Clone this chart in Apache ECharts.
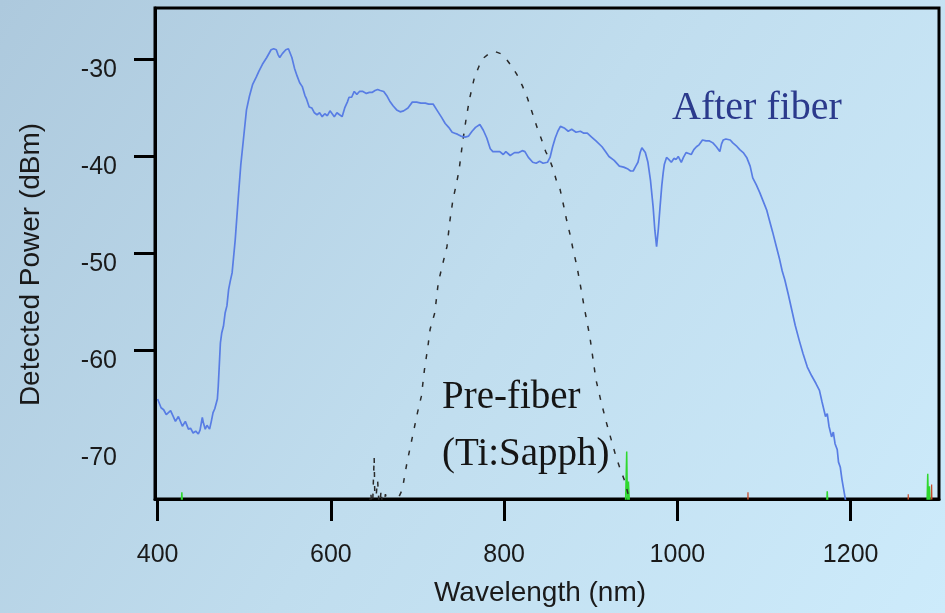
<!DOCTYPE html>
<html>
<head>
<meta charset="utf-8">
<script src="https://cdn.jsdelivr.net/npm/echarts@6/dist/echarts.min.js"></script>
<style>
  html, body { margin: 0; padding: 0; }
  #chart { width: 945px; height: 613px; }
</style>
</head>
<body>
<div id="chart"></div>
<script>
// Tick labels
const xTicks = [400, 600, 800, 1000, 1200];
const yTickMarks = [-60, -50, -40, -30];
const yTickLabels = [-70, -60, -50, -40, -30];

// After fiber spectrum: [wavelength nm, power dBm]
const afterFiber = [
[400,-65.0],[404,-65.9],[407,-66.1],[410,-66.6],[412,-66.8],[415,-66.2],[417,-66.3],[420.6,-67.3],[424,-66.8],[428.6,-67.8],[432,-67.3],[435.6,-68.1],[438,-68.0],[441,-68.5],[444,-68.3],[447,-68.6],[449,-68.2],[451.6,-66.9],[453,-67.5],[455,-68.1],[457,-67.7],[460,-68.1],[462,-67.3],[464,-66.4],[466,-66.0],[469,-65.0],[470,-63.7],[472.5,-59.2],[474,-58.2],[476,-57.5],[478,-56.1],[480,-55.4],[482,-53.7],[484,-52.8],[486,-52.0],[489.6,-48.6],[493,-44.4],[496,-40.9],[499,-38.3],[502.6,-35.2],[506,-33.8],[509.6,-32.6],[514,-31.8],[517,-31.2],[521,-30.5],[526,-29.8],[531,-29.0],[534,-28.9],[537,-29.0],[539,-29.5],[541,-29.8],[544,-29.4],[548,-29.0],[551,-28.9],[555,-29.8],[558,-30.9],[561,-31.7],[564,-32.4],[567,-32.8],[570,-33.7],[572,-34.1],[575,-34.9],[578,-35.0],[581,-35.5],[584,-35.7],[587,-35.5],[590,-35.9],[593,-35.6],[596,-35.8],[599,-35.3],[601,-35.4],[604,-35.9],[607,-35.5],[610,-35.7],[613,-35.9],[616,-35.0],[619,-34.4],[621,-33.9],[624,-33.9],[627,-33.3],[630,-33.6],[633,-33.3],[637,-33.3],[641,-33.5],[644.5,-33.4],[647.5,-33.4],[651,-33.2],[654,-33.1],[657,-33.2],[661,-33.3],[665,-33.8],[668,-34.3],[672,-34.8],[676,-35.2],[680,-35.4],[684,-35.3],[689,-35.0],[694,-34.4],[699,-34.4],[704,-34.5],[709,-34.5],[713,-34.6],[718,-34.6],[723,-35.3],[728,-36.0],[732,-36.6],[736,-37.0],[740,-37.5],[743,-37.6],[746,-37.7],[750,-37.9],[755,-38.0],[759,-37.9],[763,-37.4],[767,-37.0],[772,-36.7],[776,-37.3],[780,-38.1],[784,-39.2],[787,-39.5],[791,-39.5],[795,-39.5],[799,-39.8],[802,-39.5],[807,-39.9],[812,-39.6],[817,-39.6],[821,-39.4],[824,-39.5],[828,-40.1],[833,-40.6],[837,-40.7],[841,-40.5],[845,-40.7],[850,-40.6],[853,-40.1],[856,-39.0],[859,-38.1],[862,-37.4],[865,-36.9],[867,-36.7],[870,-37.1],[874,-37.4],[878,-37.2],[883,-37.5],[888,-37.4],[892,-37.6],[896,-37.6],[901,-38.0],[906,-38.4],[913,-39.0],[917,-39.5],[921,-40.0],[927,-40.4],[933,-41.0],[938,-41.1],[943,-41.3],[946,-41.5],[949,-41.5],[952,-41.0],[954.5,-40.6],[957,-39.6],[959,-39.1],[961,-39.0],[963,-39.6],[966,-40.6],[969,-42.5],[972,-45.2],[974,-47.6],[976,-49.3],[978,-47.5],[980,-45.2],[982,-43.0],[983.6,-41.7],[985,-40.8],[987.5,-40.1],[990,-40.3],[993,-40.6],[996,-40.2],[998.6,-40.3],[1001,-40.0],[1004.5,-40.6],[1007,-40.1],[1010,-39.6],[1013,-39.7],[1016,-39.8],[1019,-39.3],[1022,-39.0],[1025,-38.8],[1029,-38.3],[1033,-38.4],[1037,-38.4],[1041,-38.6],[1045,-39.0],[1047,-38.8],[1049,-39.5],[1051,-38.7],[1053,-38.3],[1056,-38.2],[1058,-38.1],[1061,-38.3],[1064,-38.6],[1068,-38.9],[1072,-39.3],[1076,-39.6],[1080,-40.1],[1084,-41.0],[1087,-42.2],[1091,-42.9],[1095,-43.7],[1099,-44.6],[1103,-45.5],[1106,-46.5],[1110,-47.8],[1114,-49.2],[1118,-50.6],[1121,-51.8],[1124,-52.7],[1128,-54.2],[1132,-55.8],[1136,-57.4],[1140.5,-58.9],[1145,-60.3],[1150,-61.7],[1155,-62.6],[1160,-63.4],[1164,-64.1],[1167,-65.3],[1171,-66.8],[1173,-66.5],[1175,-67.8],[1178,-68.9],[1180,-68.4],[1182,-69.6],[1184.5,-70.2],[1186,-71.5],[1188,-72.0],[1190,-73.3],[1193.5,-75.1],[1196,-76.5]
];

// Pre-fiber (Ti:Sapph) spectrum
const preFiber = [
[636,-76.5],[644,-76.5],[646,-74.6],[648,-76.5],[650,-71.0],[651,-76.5],[653,-74.2],[654,-73.4],[656,-76.5],[658,-74.4],[660,-76.5],[663,-74.8],[664,-75.0],[667,-76.5],[676,-76.5],[679,-75.0],[682.6,-74.3],[685,-73.0],[688,-71.5],[692,-69.8],[696,-68.1],[700,-66.4],[704.5,-64.7],[708,-62.0],[712,-59.6],[714.6,-57.8],[720,-56.1],[724,-53.0],[729.6,-50.9],[734,-49.3],[737.6,-46.5],[741,-44.4],[745,-42.8],[748,-41.4],[752,-38.6],[756,-36.2],[760,-34.1],[765.6,-31.9],[771,-30.7],[777,-29.8],[784,-29.3],[790,-29.2],[796,-29.4],[802,-29.9],[809.5,-30.8],[815,-31.6],[821,-32.7],[827,-34.0],[832.5,-35.5],[838,-37.0],[843,-38.2],[848,-39.5],[852,-40.2],[856.6,-41.3],[861,-42.7],[864.6,-43.4],[869,-45.2],[872,-46.5],[876,-48.0],[879.6,-49.6],[884,-51.3],[887.5,-53.0],[893,-55.8],[899,-58.6],[906,-63.0],[912,-65.3],[918,-67.4],[924,-69.3],[929,-70.9],[934,-72.2],[938.6,-73.3],[942,-74.4],[944,-75.1],[946,-76.5]
];

// Noise spikes at the floor
const greenNoise = [
[427,-76.5],[428,-74.6],[429,-76.5],[940,-76.5],[941.5,-70.4],[942.5,-76.5],[943.5,-73.5],[945,-76.5],[1172,-76.5],[1173,-74.5],[1174,-76.5],[1288,-76.5],[1289,-72.7],[1290,-76.5],[1291,-74.0],[1292,-76.5]
];
const redNoise = [
[1081,-76.5],[1081.5,-74.6],[1082,-76.5],[1266,-76.5],[1266.5,-74.8],[1267,-76.5],[1293,-76.5],[1293.5,-73.8],[1294,-76.5]
];

const chart = echarts.init(document.getElementById('chart'), null, { renderer: 'canvas' });
const axisFont = 'Liberation Sans, Arial, sans-serif';
const serifFont = 'Liberation Serif, Times New Roman, serif';

chart.setOption({
  animation: false,
  backgroundColor: {
    type: 'linear', x: 0, y: 0, x2: 1, y2: 1,
    colorStops: [
      { offset: 0, color: '#adc9dd' },
      { offset: 0.5, color: '#c0ddee' },
      { offset: 1, color: '#cdebfb' }
    ]
  },
  grid: {
    left: 155, top: 8, width: 784, height: 491,
    show: true, borderColor: '#000', borderWidth: 3, backgroundColor: 'transparent'
  },
  xAxis: {
    type: 'value', min: 397, max: 1302,
    name: 'Wavelength (nm)', nameLocation: 'middle', nameGap: 80,
    nameTextStyle: { fontSize: 28, color: '#1a1a1a', fontFamily: axisFont, padding: [0, 14, 0, 0] },
    axisLine: { show: true, lineStyle: { color: '#000', width: 3 } },
    axisTick: { show: true, customValues: xTicks, length: 22, lineStyle: { color: '#000', width: 3 } },
    axisLabel: { customValues: xTicks, margin: 44, fontSize: 25, color: '#1a1a1a', fontFamily: axisFont, formatter: v => String(v) },
    splitLine: { show: false }
  },
  yAxis: {
    type: 'value', min: -75.3, max: -24.7,
    name: 'Detected Power (dBm)', nameLocation: 'middle', nameGap: 110,
    nameTextStyle: { fontSize: 28, color: '#1a1a1a', fontFamily: axisFont, padding: [0, 22, 0, 0] },
    axisLine: { show: true, lineStyle: { color: '#000', width: 3 } },
    axisTick: { show: true, customValues: yTickMarks, length: 21, lineStyle: { color: '#000', width: 3 } },
    axisLabel: { customValues: yTickLabels, margin: 38, fontSize: 25, color: '#1a1a1a', fontFamily: axisFont,
                 verticalAlign: 'top', lineHeight: 22, formatter: v => String(v) },
    splitLine: { show: false }
  },
  series: [
    {
      name: 'Pre-fiber', type: 'line', data: preFiber, showSymbol: false, clip: true,
      lineStyle: { color: '#2a2a2a', width: 1.5, type: [5, 9] }, z: 3
    },
    {
      name: 'After fiber', type: 'line', data: afterFiber, showSymbol: false, clip: true,
      lineStyle: { color: '#587de4', width: 1.7 }, z: 4
    },
    {
      name: 'green', type: 'line', data: greenNoise, showSymbol: false, clip: true,
      lineStyle: { color: '#2fd82f', width: 1.5 }, z: 2
    },
    {
      name: 'red', type: 'line', data: redNoise, showSymbol: false, clip: true,
      lineStyle: { color: '#c84a2a', width: 1.2 }, z: 2
    }
  ],
  graphic: [
    { type: 'text', x: 672, y: 108, style: { text: 'After fiber', font: '40px ' + serifFont, fill: '#2b3a8c', verticalAlign: 'middle' } },
    { type: 'text', x: 442, y: 398, style: { text: 'Pre-fiber', font: '39px ' + serifFont, fill: '#151515', verticalAlign: 'middle' } },
    { type: 'text', x: 442, y: 455, style: { text: '(Ti:Sapph)', font: '39px ' + serifFont, fill: '#151515', verticalAlign: 'middle' } }
  ]
});
</script>
</body>
</html>
